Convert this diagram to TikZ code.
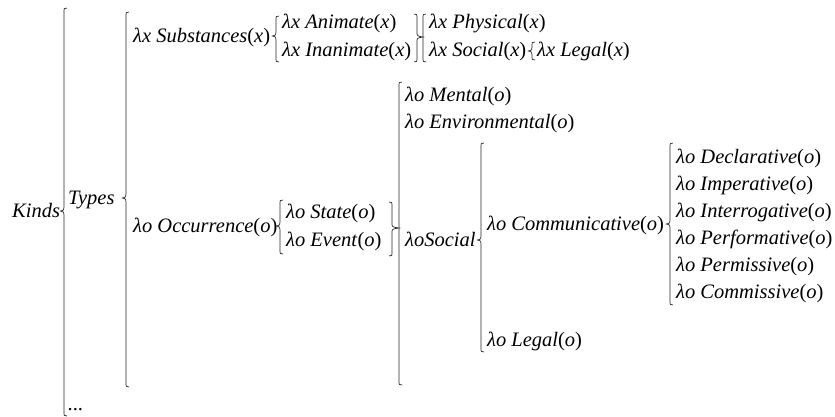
\documentclass[tikz,border=0pt]{standalone}
\usepackage{fontspec}
\setmainfont{Liberation Serif}
\newcommand\pa[1]{\textup{(}#1\textup{)}}
\tikzset{
  lbl/.style={anchor=base west, inner sep=0pt, font=\fontsize{20.5}{24}\selectfont\itshape},
  brace/.style={line width=0.7pt, black!85},
}
% left brace with cusp: x, top, cusp, bottom
\newcommand\LBrace[4]{%
 \draw[brace] ({#1+3},#2) .. controls (#1,#2) .. (#1,{#2+5}) -- (#1,{#3-4}) .. controls (#1,{#3-1}) .. ({#1-3.5},#3) .. controls (#1,{#3+1}) .. (#1,{#3+4}) -- (#1,{#4-5}) .. controls (#1,#4) .. ({#1+3},#4);}
% right brace with cusp: x, top, cusp, bottom, cusp length
\newcommand\RBrace[5]{%
 \draw[brace] ({#1-3},#2) .. controls (#1,#2) .. (#1,{#2+5}) -- (#1,{#3-5}) .. controls (#1,{#3-1}) .. ({#1+#5},#3) .. controls (#1,{#3+1}) .. (#1,{#3+5}) -- (#1,{#4-5}) .. controls (#1,#4) .. ({#1-3},#4);}
% left bracket (no cusp)
\newcommand\LBrack[3]{%
 \draw[brace] ({#1+3},#2) .. controls (#1,#2) .. (#1,{#2+5}) -- (#1,{#3-5}) .. controls (#1,#3) .. ({#1+3},#3);}
\begin{document}
\begin{tikzpicture}[x=1pt,y=-1pt]
\useasboundingbox (0,0) rectangle (835,416);
% texts
\node[lbl] (kinds) at (12,217) {Kinds};
\node[lbl] (types) at (68,204) {Types};
\node[lbl] (subst) at (133,42) {λx Substances\pa{x}};
\node[lbl] (anim) at (282,28) {λx Animate\pa{x}};
\node[lbl] (inanim) at (282,56) {λx Inanimate\pa{x}};
\node[lbl] (phys) at (429,28) {λx Physical\pa{x}};
\node[lbl] (socx) at (429,56) {λx Social\pa{x}};
\node[lbl] (legx) at (537,56) {λx Legal\pa{x}};
\node[lbl] (occ) at (133,232) {λo Occurrence\pa{o}};
\node[lbl] (state) at (286,218) {λo State\pa{o}};
\node[lbl] (event) at (286,246) {λo Event\pa{o}};
\node[lbl] (mental) at (405,101) {λo Mental\pa{o}};
\node[lbl] (env) at (405,128) {λo Environmental\pa{o}};
\node[lbl] (soco) at (405,246) {λoSocial};
\node[lbl] (comm) at (487,230) {λo Communicative\pa{o}};
\node[lbl] (lego) at (487,346) {λo Legal\pa{o}};
\node[lbl] (decl) at (676,163) {λo Declarative\pa{o}};
\node[lbl] (imp) at (676,190) {λo Imperative\pa{o}};
\node[lbl] (inter) at (676,217) {λo Interrogative\pa{o}};
\node[lbl] (perf) at (676,244) {λo Performative\pa{o}};
\node[lbl] (perm) at (676,271) {λo Permissive\pa{o}};
\node[lbl] (commi) at (676,298) {λo Commissive\pa{o}};
\node[lbl] (dots) at (68,410) {...};
% braces
\LBrace{64}{8}{211}{416}
\LBrace{126}{12}{198}{387}
\LBrace{276}{16}{36}{62}
\RBrace{417}{14}{37}{62}{6}
\LBrack{423}{14}{62}
\LBrace{532}{42}{51}{60}
\LBrack{399}{82}{385}
\LBrace{280}{200}{226}{254}
\RBrace{392}{202}{228}{256}{7}
\LBrace{481}{143}{240}{352}
\LBrace{670}{143}{224}{305}
\end{tikzpicture}
\end{document}
